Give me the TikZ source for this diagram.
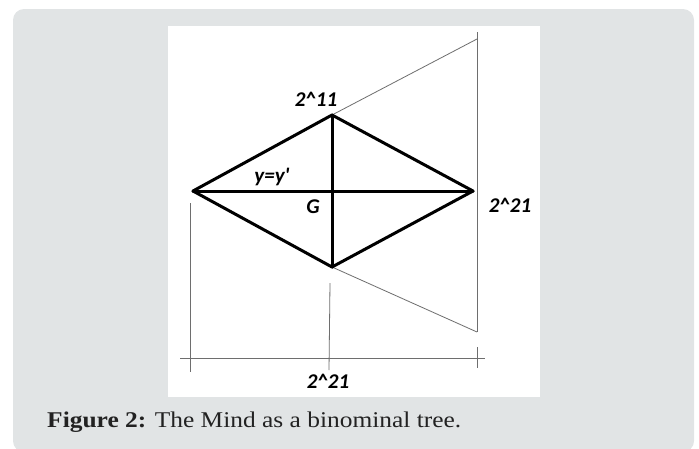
\documentclass[tikz,border=0pt]{standalone}
\usepackage{fontspec}
\setmainfont{Liberation Serif}
\newfontfamily\labfont{Carlito}
\definecolor{panel}{HTML}{E1E4E5}
\definecolor{thinline}{HTML}{6E6E6E}
\definecolor{captext}{HTML}{222222}
\begin{document}
\begin{tikzpicture}[x=1pt,y=-1pt,
  thickedge/.style={line width=3pt,black,line cap=round,line join=round},
  thinedge/.style={line width=0.8pt,thinline},
  lab/.style={font=\labfont\bfseries\itshape\fontsize{21}{23}\selectfont,inner sep=0pt,text=black}]
\useasboundingbox (0,0) rectangle (699,448);
\begin{scope}
\clip (0,0) rectangle (699,448);
\fill[panel,rounded corners=11pt] (13,9) rectangle (694,452);
\end{scope}
\fill[white] (168,26) rectangle (540,397);
% vertices
\coordinate (L) at (193,191);
\coordinate (T) at (332,115);
\coordinate (R) at (473,191);
\coordinate (B) at (332,267);
\coordinate (G) at (332,191);
% thin construction lines
\coordinate (RT) at (477,39);
\coordinate (VT) at (477,32);
\coordinate (RB) at (477,332);
\coordinate (TK1) at (477,347);
\coordinate (TK2) at (477,368);
\coordinate (LV1) at (190,203);
\coordinate (LV2) at (190,372);
\coordinate (MV1) at (330,283);
\coordinate (MV2) at (329,370);
\coordinate (H1) at (180,358);
\coordinate (H2) at (485,358);
\draw[thinedge] (T) -- (RT);
\draw[thinedge] (VT) -- (RB);
\draw[thinedge] (B) -- (RB);
\draw[thinedge] (TK1) -- (TK2);
\draw[thinedge] (LV1) -- (LV2);
\draw[thinedge] (MV1) -- (MV2);
\draw[thinedge] (H1) -- (H2);
% thick rhombus
\draw[thickedge] (L) -- (T) -- (R) -- (B) -- cycle;
\draw[thickedge] (L) -- (R);
\draw[thickedge] (T) -- (B);
% labels
\node[lab] (l211) at (316,99) {2\^{}11};
\node[lab] (lyy) at (272,177) {y=y'};
\node[lab] (lG) at (313,207) {G};
\node[lab] (l221r) at (510,205) {2\^{}21};
\node[lab] (l221b) at (328,381) {2\^{}21};
\node[anchor=base west,inner sep=0pt,xscale=1.13,font=\fontsize{22.5}{24}\selectfont,text=captext] (cap) at (47,427) {\textbf{Figure 2:} The Mind as a binominal tree.};
\end{tikzpicture}
\end{document}
